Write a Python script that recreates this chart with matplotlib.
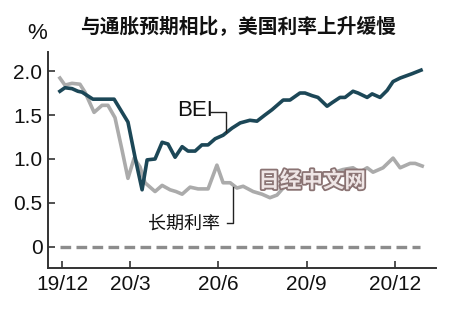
import matplotlib
matplotlib.use("Agg")
import matplotlib.pyplot as plt
import matplotlib.patheffects as pe
from matplotlib import font_manager

# x positions are in months counted from 2019/12 (20/3 = 3, 20/6 = 6 ...)
bei_x = [0.62, 0.79, 1.03, 1.23, 1.37, 1.74, 2.46, 2.93, 3.17, 3.41, 3.58, 3.85,
         4.09, 4.29, 4.53, 4.77, 4.97, 5.21, 5.44, 5.65, 5.89, 6.16, 6.46, 6.74,
         7.07, 7.31, 7.58, 7.82, 8.20, 8.43, 8.77, 8.94, 9.18, 9.38, 9.69, 9.86,
         10.13, 10.30, 10.57, 10.74, 11.05, 11.22, 11.49, 11.73, 11.93, 12.17,
         12.58, 12.88]
bei_y = [1.77, 1.81, 1.80, 1.77, 1.76, 1.68, 1.68, 1.42, 1.02, 0.65, 0.99, 1.00,
         1.19, 1.17, 1.02, 1.14, 1.09, 1.09, 1.16, 1.16, 1.23, 1.27, 1.35, 1.41,
         1.44, 1.43, 1.50, 1.56, 1.67, 1.67, 1.75, 1.75, 1.72, 1.70, 1.60, 1.64,
         1.70, 1.70, 1.77, 1.75, 1.70, 1.74, 1.70, 1.78, 1.88, 1.92, 1.97, 2.01]

rate_x = [0.62, 0.79, 1.03, 1.30, 1.47, 1.78, 2.05, 2.25, 2.49, 2.73, 2.93, 3.14,
          3.34, 3.51, 3.68, 3.85, 4.09, 4.36, 4.56, 4.77, 5.04, 5.31, 5.65, 5.95,
          6.16, 6.40, 6.63, 6.84, 7.18, 7.48, 7.75, 7.99, 8.20, 8.50, 8.84, 9.18,
          9.52, 9.86, 10.23, 10.57, 10.81, 11.05, 11.25, 11.59, 11.93, 12.17,
          12.51, 12.68, 12.92]
rate_y = [1.92, 1.84, 1.86, 1.85, 1.76, 1.53, 1.61, 1.61, 1.47, 1.10, 0.78, 1.01,
          0.91, 0.73, 0.68, 0.63, 0.70, 0.65, 0.63, 0.60, 0.68, 0.66, 0.66, 0.93,
          0.73, 0.73, 0.67, 0.69, 0.63, 0.60, 0.56, 0.59, 0.67, 0.72, 0.76, 0.78,
          0.80, 0.84, 0.88, 0.90, 0.85, 0.90, 0.85, 0.90, 1.01, 0.90, 0.95, 0.95,
          0.92]

xtick_pos = [0.7, 3, 6, 9, 12]
xtick_labels = ["19/12", "20/3", "20/6", "20/9", "20/12"]
ytick_pos = [0, 0.5, 1.0, 1.5, 2.0]
ytick_labels = ["0", "0.5", "1.0", "1.5", "2.0"]

title = "与通胀预期相比，美国利率上升缓慢"

cjk = ["Noto Sans CJK SC", "DejaVu Sans"]
names = {f.name for f in font_manager.fontManager.ttflist}
num_font = "Liberation Sans Narrow" if "Liberation Sans Narrow" in names else "Liberation Sans"

teal = "#1c4757"
grey = "#ababab"
axis_col = "#333333"

fig = plt.figure(figsize=(4.5, 3.13), dpi=100)
fig.patch.set_facecolor("white")
ax = fig.add_axes([0.1067, 0.1438, 0.8623, 0.690])

ax.plot(rate_x, rate_y, color=grey, lw=2.6, solid_joinstyle="round", zorder=3)
ax.plot(bei_x, bei_y, color=teal, lw=2.6, solid_joinstyle="round", zorder=4)
ax.plot([0.62, 12.85], [0, 0], color="#8c8c8c", lw=2.4, ls=(0, (3.2, 1.6)), zorder=2)

ax.set_xlim(0.216, 13.39)
ax.set_ylim(-0.239, 2.216)

ax.set_xticks(xtick_pos)
ax.set_xticklabels(xtick_labels, fontfamily=num_font, fontsize=15)
ax.set_yticks(ytick_pos)
ax.set_yticklabels(ytick_labels, fontfamily=num_font, fontsize=15)
ax.tick_params(axis="both", direction="in", length=5, width=1.2, color=axis_col,
               labelcolor="#111111")
ax.tick_params(axis="x", pad=5)
ax.tick_params(axis="y", pad=4)

for s in ["top", "right"]:
    ax.spines[s].set_visible(False)
for s in ["left", "bottom"]:
    ax.spines[s].set_color(axis_col)
    ax.spines[s].set_linewidth(1.4)

# BEI label with connector
ax.text(4.6, 1.55, "BEI", fontfamily=num_font, fontsize=16, color="#111111",
        va="center", ha="left")
ax.plot([5.72, 6.26, 6.26], [1.53, 1.53, 1.31], color="#222222", lw=1.0, zorder=5)

# long-term rate label with connector
ax.text(3.6, 0.27, "长期利率", fontfamily=cjk, fontsize=13, color="#111111",
        va="center", ha="left")
ax.plot([6.29, 6.5, 6.5], [0.27, 0.27, 0.68], color="#222222", lw=1.0, zorder=5)

# watermark
ax.text(9.18, 0.75, "日经中文网", fontfamily=cjk, fontsize=15.5, fontweight="bold",
        color="#efe6e6", ha="center", va="center", zorder=6,
        path_effects=[pe.withStroke(linewidth=2.6, foreground="#8a7373")])

fig.text(0.082, 0.893, "%", fontfamily=num_font, fontsize=16, color="#111111",
         ha="center", va="center")
fig.text(0.53, 0.913, title, fontfamily=cjk, fontsize=14.2, fontweight="bold",
         color="#111111", ha="center", va="center")

fig.savefig("out.png", dpi=100, facecolor="white")
